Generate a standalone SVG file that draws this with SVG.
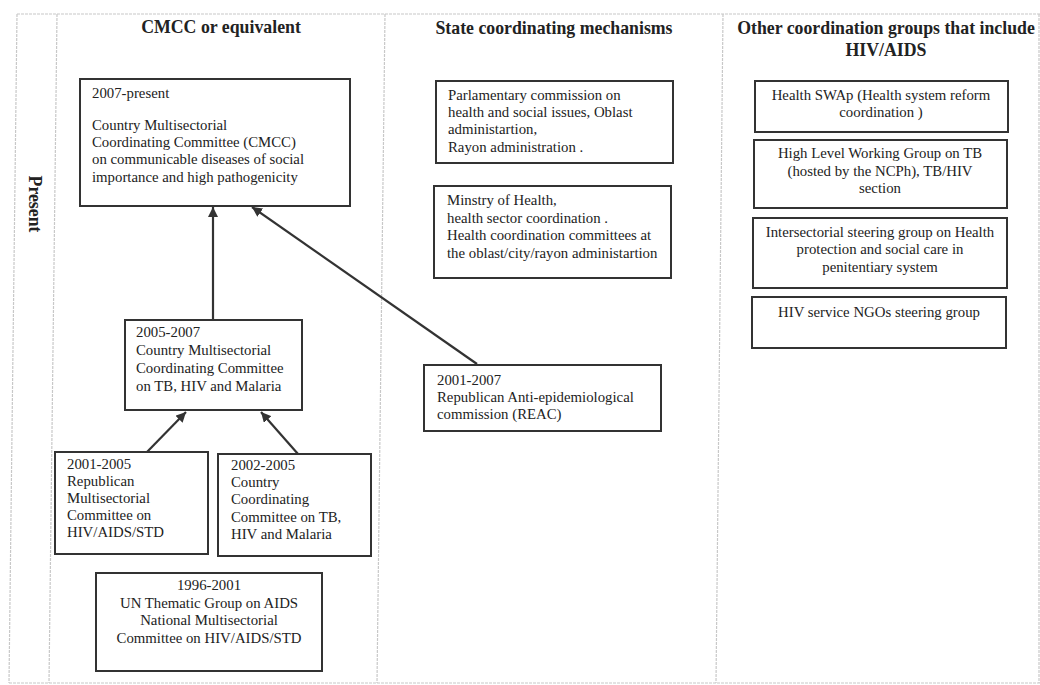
<svg xmlns="http://www.w3.org/2000/svg" width="1040" height="685" viewBox="0 0 1040 685">
<style>
  .grid { stroke: #c8c8c8; stroke-width: 1.2; stroke-dasharray: 3 1; fill: none; }
  .box { fill: #fff; stroke: #333; stroke-width: 2; }
  .t { font-family: "Liberation Serif", "Times New Roman", serif; font-size: 14.8px; fill: #222; }
  .c { text-anchor: middle; }
  .h { font-family: "Liberation Serif", "Times New Roman", serif; font-size: 17.8px; font-weight: bold; fill: #222; text-anchor: middle; }
  .conn { stroke: #333; stroke-width: 2.2; fill: none; marker-end: url(#arr); }
</style>
<defs>
  <marker id="arr" markerUnits="userSpaceOnUse" markerWidth="12" markerHeight="10" refX="10" refY="5" orient="auto">
    <path d="M0,0 L10,5 L0,10 z" fill="#333"/>
  </marker>
</defs>
<rect width="1040" height="685" fill="#fff"/>
<g id="grid">
  <line class="grid" x1="17" y1="14" x2="1040" y2="14"/>
  <line class="grid" x1="9" y1="683" x2="1040" y2="683"/>
  <line class="grid" x1="17" y1="14" x2="9" y2="683"/>
  <line class="grid" x1="57" y1="14" x2="49" y2="683"/>
  <line class="grid" x1="385" y1="14" x2="377" y2="683"/>
  <line class="grid" x1="723" y1="14" x2="716" y2="683"/>
  <line class="grid" x1="1039" y1="14" x2="1039" y2="683"/>
</g>
<g id="headers">
  <text class="h" x="221" y="33">CMCC or equivalent</text>
  <text class="h" x="554" y="34">State coordinating mechanisms</text>
  <text class="h" x="886" y="34">Other coordination groups that include</text>
  <text class="h" x="886" y="56">HIV/AIDS</text>
  <text class="h" transform="translate(29,204) rotate(90)" x="0" y="0">Present</text>
</g>
<g id="connectors">
  <line class="conn" x1="213" y1="320" x2="213" y2="207"/>
  <line class="conn" x1="477" y1="364" x2="252" y2="207"/>
  <line class="conn" x1="147" y1="452" x2="186" y2="412"/>
  <line class="conn" x1="298" y1="454" x2="261" y2="412"/>
</g>
<g id="n2007">
  <rect class="box" x="80" y="79" width="270" height="127"/>
  <text class="t" x="92" y="98">2007-present</text>
  <text class="t" x="92" y="130">Country Multisectorial</text>
  <text class="t" x="92" y="147">Coordinating Committee (CMCC)</text>
  <text class="t" x="92" y="164">on communicable diseases of social</text>
  <text class="t" x="92" y="182">importance and high pathogenicity</text>
</g>
<g id="n2005">
  <rect class="box" x="125" y="320" width="177" height="90"/>
  <text class="t" x="136" y="337">2005-2007</text>
  <text class="t" x="136" y="355">Country Multisectorial</text>
  <text class="t" x="136" y="373">Coordinating Committee</text>
  <text class="t" x="136" y="391">on TB, HIV and Malaria</text>
</g>
<g id="n2001">
  <rect class="box" x="55" y="452" width="153" height="102"/>
  <text class="t" x="67" y="469">2001-2005</text>
  <text class="t" x="67" y="486">Republican</text>
  <text class="t" x="67" y="503">Multisectorial</text>
  <text class="t" x="67" y="520">Committee on</text>
  <text class="t" x="67" y="537">HIV/AIDS/STD</text>
</g>
<g id="n2002">
  <rect class="box" x="218" y="454" width="153" height="102"/>
  <text class="t" x="231" y="470">2002-2005</text>
  <text class="t" x="231" y="487">Country</text>
  <text class="t" x="231" y="504">Coordinating</text>
  <text class="t" x="231" y="522">Committee on TB,</text>
  <text class="t" x="231" y="539">HIV and Malaria</text>
</g>
<g id="n1996">
  <rect class="box" x="96" y="573" width="226" height="98"/>
  <text class="t c" x="209" y="590">1996-2001</text>
  <text class="t c" x="209" y="608">UN Thematic Group on AIDS</text>
  <text class="t c" x="209" y="625">National Multisectorial</text>
  <text class="t c" x="209" y="643">Committee on HIV/AIDS/STD</text>
</g>
<g id="nREAC">
  <rect class="box" x="424" y="365" width="237" height="66"/>
  <text class="t" x="437" y="385">2001-2007</text>
  <text class="t" x="437" y="402">Republican  Anti-epidemiological</text>
  <text class="t" x="437" y="419">commission (REAC)</text>
</g>
<g id="nParl">
  <rect class="box" x="436" y="81" width="237" height="82"/>
  <text class="t" x="448" y="100">Parlamentary commission on</text>
  <text class="t" x="448" y="117">health and social issues, Oblast</text>
  <text class="t" x="448" y="134">administartion,</text>
  <text class="t" x="448" y="152">Rayon administration .</text>
</g>
<g id="nMoH">
  <rect class="box" x="434" y="186" width="237" height="92"/>
  <text class="t" x="447" y="205">Minstry of Health,</text>
  <text class="t" x="447" y="223">health sector coordination  .</text>
  <text class="t" x="447" y="240">Health coordination committees at</text>
  <text class="t" x="447" y="258">the oblast/city/rayon administartion</text>
</g>
<g id="nSWAp">
  <rect class="box" x="755" y="81" width="253" height="51"/>
  <text class="t c" x="881" y="100">Health SWAp  (Health system reform</text>
  <text class="t c" x="881" y="117">coordination )</text>
</g>
<g id="nTB">
  <rect class="box" x="754" y="140" width="253" height="68"/>
  <text class="t c" x="880" y="158">High Level Working Group on TB</text>
  <text class="t c" x="880" y="176">(hosted by the NCPh), TB/HIV</text>
  <text class="t c" x="880" y="193">section</text>
</g>
<g id="nPen">
  <rect class="box" x="753" y="218" width="254" height="70"/>
  <text class="t c" x="880" y="237">Intersectorial steering group on Health</text>
  <text class="t c" x="880" y="254">protection and social care in</text>
  <text class="t c" x="880" y="272">penitentiary system</text>
</g>
<g id="nNGO">
  <rect class="box" x="752" y="297" width="254" height="51"/>
  <text class="t c" x="879" y="317">HIV service NGOs steering group</text>
</g>
</svg>
